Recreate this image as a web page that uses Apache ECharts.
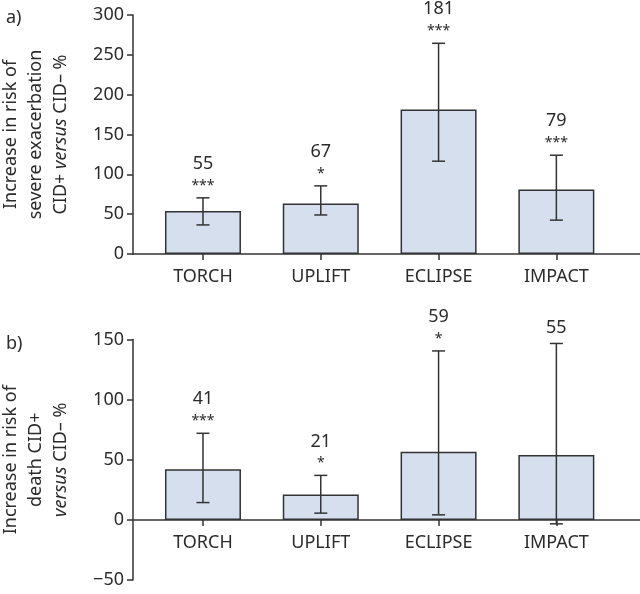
<!DOCTYPE html>
<html><head><meta charset="utf-8">
<script src="https://cdn.jsdelivr.net/npm/echarts@6/dist/echarts.min.js"></script>
<style>html,body{margin:0;padding:0;background:#fff}#c{width:640px;height:594px}</style>
</head><body><div id="c"></div>
<script>
const categories = ['TORCH', 'UPLIFT', 'ECLIPSE', 'IMPACT'];
// Panel a) severe exacerbation
const exacValues = [54, 63.5, 181.5, 81];
const exacLow = [36.5, 49, 116.5, 42.5];
const exacHigh = [70.5, 85.5, 264.5, 124];
const exacLabels = ['55', '67', '181', '79'];
const exacStars = ['***', '*', '***', '***'];
// Panel b) death
const deathValues = [42, 21, 56.7, 54];
const deathLow = [14.4, 5.6, 4.2, -3.3];
const deathHigh = [72, 37, 140.5, 146.7];
const deathLabels = ['41', '21', '59', '55'];
const deathStars = ['***', '*', '*', ''];
// axes
const exacAxis = { min: 0, max: 300, interval: 50 };
const deathAxis = { min: -50, max: 150, interval: 50 };

const FONT = 'Noto Sans';
const TXT = '#2b2b2b';
const LINE = '#333';
const catIdx = categories.map((c, i) => i);

function xAxisDef(gi, offset) {
  return {
    type: 'value', gridIndex: gi, min: -0.594, max: 3.71, position: 'bottom', offset: offset,
    splitLine: { show: false },
    axisLine: { show: true, onZero: false, lineStyle: { color: LINE, width: 1.5 } },
    axisTick: { show: true, customValues: catIdx, length: 6, lineStyle: { color: LINE, width: 1.5 } },
    axisLabel: { show: true, customValues: catIdx, formatter: v => categories[Math.round(v)], color: TXT, fontFamily: FONT, fontSize: 18, margin: 14 }
  };
}
function yAxisDef(gi, ax, name) {
  return {
    type: 'value', gridIndex: gi, min: ax.min, max: ax.max, interval: ax.interval, position: 'left',
    splitLine: { show: false },
    axisLine: { show: true, onZero: false, lineStyle: { color: LINE, width: 1.5 } },
    axisTick: { show: true, length: 6, lineStyle: { color: LINE, width: 1.5 } },
    axisLabel: { color: TXT, fontFamily: FONT, fontSize: 18, margin: 9, formatter: v => String(v).replace('-', '\u2212') },
    name: name, nameLocation: 'middle', nameRotate: 90, nameGap: 60,
    nameTextStyle: {
      color: TXT, fontFamily: FONT, fontSize: 18, lineHeight: 25, align: 'center',
      rich: {
        a: { fontFamily: FONT, fontSize: 18, color: TXT, lineHeight: 25 },
        i: { fontFamily: FONT, fontSize: 18, color: TXT, fontStyle: 'italic', lineHeight: 25 }
      }
    }
  };
}
function errSeries(gi, low, high, labels, stars) {
  return {
    type: 'custom', xAxisIndex: gi, yAxisIndex: gi, z: 5, clip: false,
    data: catIdx.map(i => [i, low[i], high[i]]),
    renderItem: function (params, api) {
      const i = api.value(0);
      const top = api.coord([i, api.value(2)]);
      const bot = api.coord([i, api.value(1)]);
      const hw = 6.5;
      const st = { stroke: LINE, lineWidth: 1.5 };
      const s = stars[i];
      const children = [
        { type: 'line', shape: { x1: top[0], y1: top[1], x2: bot[0], y2: bot[1] }, style: st },
        { type: 'line', shape: { x1: top[0] - hw, y1: top[1], x2: top[0] + hw, y2: top[1] }, style: st },
        { type: 'line', shape: { x1: bot[0] - hw, y1: bot[1], x2: bot[0] + hw, y2: bot[1] }, style: st },
        { type: 'text', x: top[0], y: top[1] - (s ? 34 : 16), style: { text: labels[i], fill: TXT, font: '18px "' + FONT + '"', align: 'center', verticalAlign: 'middle' } }
      ];
      if (s) children.push({ type: 'text', x: top[0], y: top[1] - 12, style: { text: s, fill: TXT, font: '14px "' + FONT + '"', align: 'center', verticalAlign: 'middle' } });
      return { type: 'group', children: children };
    }
  };
}
function barSeries(gi, vals) {
  return {
    type: 'bar', xAxisIndex: gi, yAxisIndex: gi, barWidth: 76,
    data: catIdx.map(i => [i, vals[i]]),
    itemStyle: { color: '#d5dfee', borderColor: LINE, borderWidth: 1.5 },
    silent: true
  };
}

// distance (px) from the bottom of panel b grid up to its zero line
const deathZeroOffset = -240.5 * (0 - deathAxis.min) / (deathAxis.max - deathAxis.min);

const chart = echarts.init(document.getElementById('c'), null, { renderer: 'canvas' });
chart.setOption({
  animation: false,
  backgroundColor: '#fff',
  title: [
    { text: 'a)', left: 1, top: 4, textStyle: { fontFamily: FONT, fontSize: 18, fontWeight: 'normal', color: TXT } },
    { text: 'b)', left: 1, top: 330, textStyle: { fontFamily: FONT, fontSize: 18, fontWeight: 'normal', color: TXT } }
  ],
  grid: [
    { left: 133, top: 15, right: 0, height: 239, outerBoundsMode: 'none', containLabel: false },
    { left: 133, top: 339.5, right: 0, height: 240.5, outerBoundsMode: 'none', containLabel: false }
  ],
  xAxis: [xAxisDef(0, 0), xAxisDef(1, deathZeroOffset)],
  yAxis: [
    yAxisDef(0, exacAxis, '{a|Increase in risk of}\n{a|severe exacerbation}\n{a|CID+ }{i|versus}{a| CID\u2013 %}'),
    yAxisDef(1, deathAxis, '{a|Increase in risk of}\n{a|death CID+}\n{i|versus}{a| CID\u2013 %}')
  ],
  series: [
    barSeries(0, exacValues), errSeries(0, exacLow, exacHigh, exacLabels, exacStars),
    barSeries(1, deathValues), errSeries(1, deathLow, deathHigh, deathLabels, deathStars)
  ]
});
</script></body></html>
